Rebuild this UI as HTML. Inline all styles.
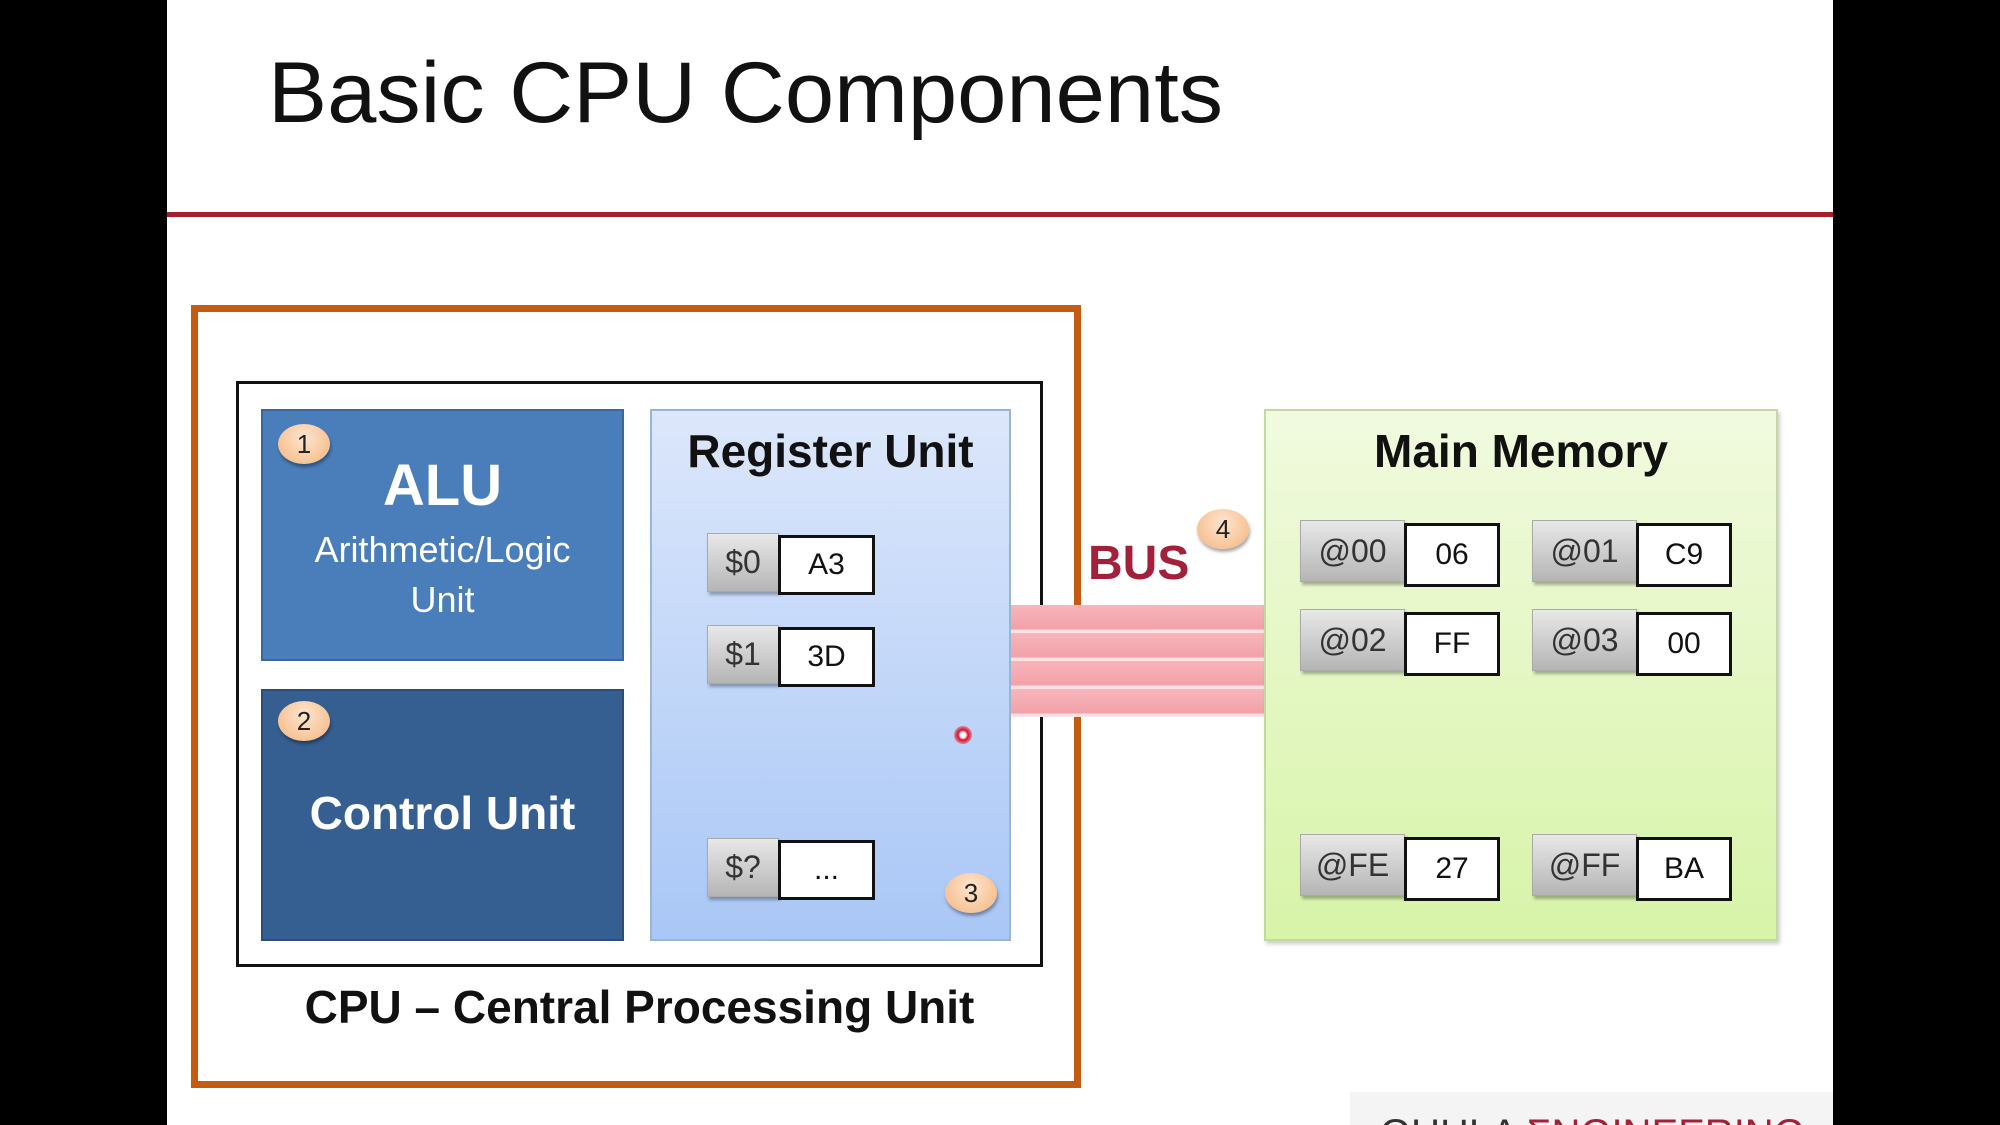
<!DOCTYPE html>
<html style="width:2000px;height:1125px;overflow:hidden"><head><meta charset="utf-8"><style>
*{margin:0;padding:0;box-sizing:border-box}
html,body{width:2000px;height:1125px;overflow:hidden}
body{background:#000;position:relative;font-family:"Liberation Sans",sans-serif}
.a{position:absolute}
.c{display:flex;align-items:center;justify-content:center;text-align:center}
.badge{position:absolute;width:52px;height:40px;border-radius:50%;background:radial-gradient(ellipse at 50% 35%,#fde6cf,#f5b47d);box-shadow:1px 3px 3px rgba(0,0,0,.35);font-size:26px;color:#222;display:flex;align-items:center;justify-content:center}
.g{position:absolute;background:linear-gradient(#e8e8e8,#b5b5b5);border:1px solid #aaa;box-shadow:2px 3px 3px rgba(0,0,0,.3);font-size:32px;color:#333;display:flex;align-items:center;justify-content:center}
.v{position:absolute;background:#fff;border:3px solid #111;font-size:30px;color:#111;display:flex;align-items:center;justify-content:center}
</style></head><body>
<div class="a" style="left:0;top:0;width:2000px;height:1125px;overflow:hidden">
<div class="a" style="left:167px;top:0;width:1666px;height:1125px;background:#fff"></div>
<div class="a" style="left:268px;top:44px;font-size:86px;color:#111;white-space:nowrap;transform:scaleX(1.03);transform-origin:left">Basic CPU Components</div>
<div class="a" style="left:167px;top:212px;width:1666px;height:5px;background:#a3202c"></div>

<div class="a" style="left:191px;top:305px;width:890px;height:783px;border:7px solid #c55a11"></div>
<div class="a" style="left:236px;top:381px;width:807px;height:586px;border:3px solid #111"></div>

<div class="a" style="left:261px;top:409px;width:363px;height:252px;background:#4a7ebb;border:2px solid #3a679c"></div>
<div class="a c" style="left:261px;top:452px;width:363px;font-size:58px;font-weight:bold;color:#fff">ALU</div>
<div class="a c" style="left:261px;top:525px;width:363px;font-size:36px;color:#fff;line-height:50px">Arithmetic/Logic<br>Unit</div>
<div class="badge" style="left:278px;top:424px">1</div>

<div class="a" style="left:261px;top:689px;width:363px;height:252px;background:#365f91;border:2px solid #2b4d78"></div>
<div class="a c" style="left:261px;top:786px;width:363px;font-size:46px;font-weight:bold;color:#fff">Control Unit</div>
<div class="badge" style="left:278px;top:701px">2</div>

<div class="a" style="left:650px;top:409px;width:361px;height:532px;background:linear-gradient(#dce7fb,#a9c7f6);border:2px solid #9ab4d8"></div>
<div class="a c" style="left:650px;top:424px;width:361px;font-size:46px;font-weight:bold;color:#111">Register Unit</div>
<div class="g" style="left:707px;top:533px;width:72px;height:59px">$0</div><div class="v" style="left:778px;top:535px;width:97px;height:60px">A3</div>
<div class="g" style="left:707px;top:625px;width:72px;height:59px">$1</div><div class="v" style="left:778px;top:627px;width:97px;height:60px">3D</div>
<div class="g" style="left:707px;top:838px;width:72px;height:59px">$?</div><div class="v" style="left:778px;top:840px;width:97px;height:60px">...</div>
<div class="a" style="left:954px;top:726px;width:18px;height:18px;border-radius:50%;background:radial-gradient(#fff 20%,#e0102a 40%,rgba(255,80,80,.3) 80%)"></div>
<div class="badge" style="left:945px;top:873px">3</div>

<div class="a" style="left:1011px;top:605px;width:253px;height:112px;background:repeating-linear-gradient(#f6b6bb 0,#f2a1a8 24px,#fde0e2 25px,#fde0e2 28px)"></div>
<div class="a" style="left:1088px;top:536px;font-size:48px;font-weight:bold;color:#a3203a">BUS</div>
<div class="badge" style="left:1197px;top:509px">4</div>

<div class="a" style="left:1264px;top:409px;width:514px;height:532px;background:linear-gradient(#f1fadf,#d7f4a8);border:2px solid #c3d9a3;box-shadow:2px 3px 4px rgba(0,0,0,.2)"></div>
<div class="a c" style="left:1264px;top:424px;width:514px;font-size:46px;font-weight:bold;color:#111">Main Memory</div>
<div class="g" style="left:1300px;top:520px;width:105px;height:62px">@00</div><div class="v" style="left:1404px;top:523px;width:96px;height:64px">06</div>
<div class="g" style="left:1532px;top:520px;width:105px;height:62px">@01</div><div class="v" style="left:1636px;top:523px;width:96px;height:64px">C9</div>
<div class="g" style="left:1300px;top:609px;width:105px;height:62px">@02</div><div class="v" style="left:1404px;top:612px;width:96px;height:64px">FF</div>
<div class="g" style="left:1532px;top:609px;width:105px;height:62px">@03</div><div class="v" style="left:1636px;top:612px;width:96px;height:64px">00</div>
<div class="g" style="left:1300px;top:834px;width:105px;height:62px">@FE</div><div class="v" style="left:1404px;top:837px;width:96px;height:64px">27</div>
<div class="g" style="left:1532px;top:834px;width:105px;height:62px">@FF</div><div class="v" style="left:1636px;top:837px;width:96px;height:64px">BA</div>

<div class="a c" style="left:236px;top:980px;width:807px;font-size:46px;font-weight:bold;color:#111">CPU – Central Processing Unit</div>
<div class="a" style="left:1350px;top:1092px;width:483px;height:33px;background:#f4f4f4"></div>
<div class="a" style="left:1380px;top:1114px;font-size:40px;line-height:40px;color:#333;white-space:nowrap">QUHLA <span style="color:#a3203a">ΣNGINEERING</span></div>
</div>
</body></html>
